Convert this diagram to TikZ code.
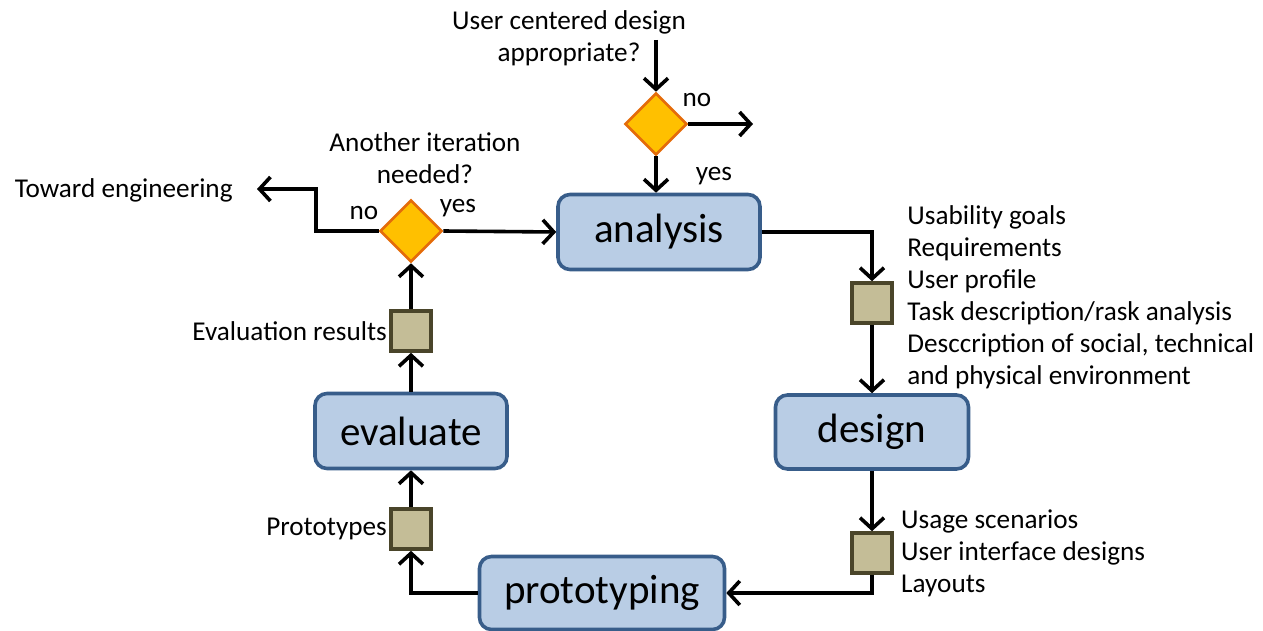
\documentclass[tikz,border=0pt]{standalone}
\usepackage{fontspec}
\setmainfont{Carlito}
\usetikzlibrary{shapes.geometric,arrows.meta,positioning}
\definecolor{stepfill}{HTML}{B9CDE5}
\definecolor{stepedge}{HTML}{385D8A}
\definecolor{decfill}{HTML}{FFC000}
\definecolor{decedge}{HTML}{E46C0A}
\definecolor{docfill}{HTML}{C4BD97}
\definecolor{docedge}{HTML}{4A452A}
\begin{document}
\begin{tikzpicture}[
    x=0.5pt, y=-0.5pt,
    stepbox/.style={rectangle, rounded corners=6pt, line width=1.8pt, draw=stepedge, fill=stepfill, font=\fontsize{20.5}{24}\selectfont, inner sep=0pt},
    decbox/.style={diamond, aspect=1, draw=decedge, fill=decfill, line width=1.3pt, minimum size=31pt, inner sep=0pt},
    docbox/.style={rectangle, draw=docedge, fill=docfill, line width=1.8pt, minimum size=20pt, inner sep=0pt},
    lbl/.style={font=\fontsize{13.6}{16}\selectfont, inner sep=0pt, align=left},
    flow/.style={-{Straight Barb[length=5.5pt,width=12pt,line width=1.8pt]}, line width=1.8pt}
]
    \useasboundingbox (0,0) rectangle (1263,631);

    % Process steps
    \node[stepbox, minimum width=101pt, minimum height=37.5pt] (analysis) at (659,232) {analysis};
    \node[stepbox, minimum width=96.5pt, minimum height=37pt] (design) at (872,432) {design};
    \node[stepbox, minimum width=96pt, minimum height=37.5pt] (evaluate) at (411,431) {evaluate};
    \node[stepbox, minimum width=122.5pt, minimum height=36.5pt] (prototyping) at (602,593) {prototyping};

    % Decisions
    \node[decbox] (dtop) at (656,124) {};
    \node[decbox] (dleft) at (411,231) {};

    % Work products
    \node[docbox] (docA) at (872,303) {};
    \node[docbox] (docD) at (872,553) {};
    \node[docbox] (docE) at (411,331) {};
    \node[docbox] (docP) at (411,529) {};

    % Labels
    \node[lbl, align=center] (qtop) at (569,38) {User centered design\\appropriate?};
    \node[lbl, align=center] (qleft) at (425,158) {Another iteration\\needed?};
    \node[lbl] (notop) at (697,100) {no};
    \node[lbl] (yestop) at (714,176) {yes};
    \node[lbl] (noleft) at (364,213) {no};
    \node[lbl] (yesleft) at (458,208) {yes};
    \node[lbl, anchor=east] (toward) at (233,190) {Toward engineering};
    \node[lbl, left=1pt of docE] (results) {Evaluation results};
    \node[lbl, left=1pt of docP] (protos) {Prototypes};
    \node[lbl, anchor=west] (reqs) at (907,297) {Usability goals\\Requirements\\User profile\\Task description/rask analysis\\Desccription of social, technical\\and physical environment};
    \node[lbl, right=3.5pt of docD] (specs) {Usage scenarios\\User interface designs\\Layouts};

    \coordinate (start) at (656,40);
    \coordinate (noend) at (753,124);
    \coordinate (turn) at (316,189);
    \coordinate (tip) at (257,189);

    % Connectors
    \draw[flow] (start) -- (dtop.north);
    \draw[flow] (dtop.east) -- (noend);
    \draw[flow] (dtop.south) -- (dtop.south |- analysis.north);
    \draw[flow] (dleft.east) -- (analysis.west);
    \draw[flow] (dleft.west) -| (turn) -- (tip);
    \draw[flow] (analysis.east) -| (docA.north);
    \draw[flow] (docA.south) -- (design.north);
    \draw[flow] (design.south) -- (docD.north);
    \draw[flow] (docD.south) |- (prototyping.east);
    \draw[flow] (prototyping.west) -| (docP.south);
    \draw[flow] (docP.north) -- (evaluate.south);
    \draw[flow] (evaluate.north) -- (docE.south);
    \draw[flow] (docE.north) -- (dleft.south);
\end{tikzpicture}
\end{document}
